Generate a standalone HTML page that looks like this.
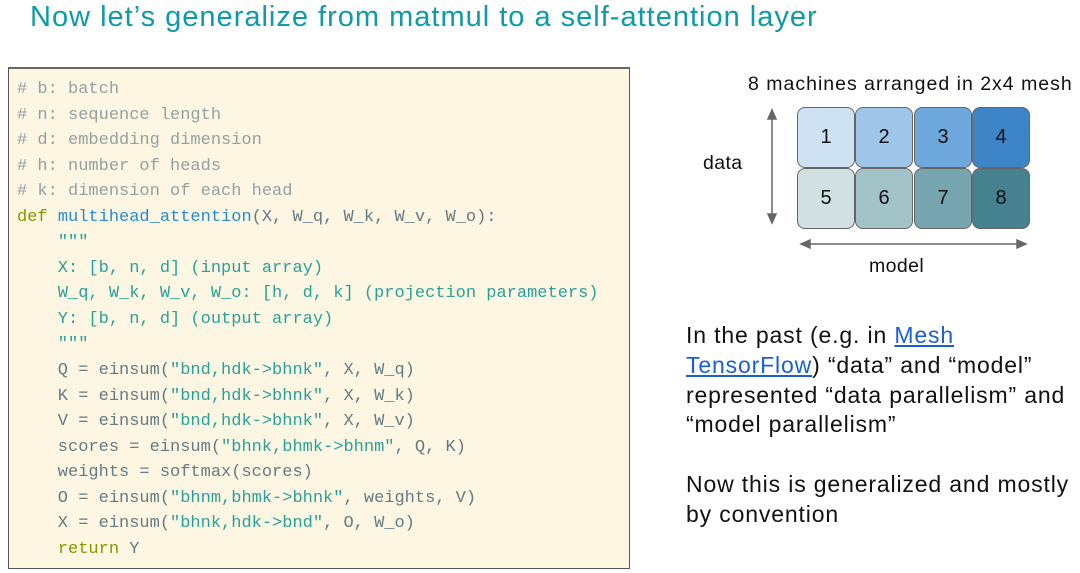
<!DOCTYPE html>
<html><head><meta charset="utf-8"><style>
*{margin:0;padding:0;box-sizing:border-box}
body{width:1080px;height:573px;background:#fff;position:relative;overflow:hidden;font-family:"Liberation Sans",sans-serif}
.title{position:absolute;left:30px;top:1px;font-size:29px;letter-spacing:1.0px;color:#0e9aa7;white-space:nowrap}
.code{position:absolute;left:8px;top:67px;width:622px;height:502px;background:#fdf6e3;border:1px solid #555;border-top:2px solid #666}
.code pre{position:absolute;left:8px;top:8px;font-family:"Liberation Mono",monospace;font-size:17px;line-height:25.55px;color:#657b83}
.c{color:#93a1a1}.k{color:#859900}.f{color:#268bd2}.s{color:#2aa198}
.t{position:absolute;white-space:nowrap;color:#111;font-size:23px;letter-spacing:0.85px}
.cell{position:absolute;width:58px;height:61px;border:1px solid #666;border-radius:8px;font-size:20px;display:flex;align-items:center;justify-content:center;color:#111}
a{color:#1a5fd6;text-decoration:underline}
</style></head><body>
<div class="title">Now let’s generalize from matmul to a self-attention layer</div>
<div class="code"><pre><span class="c"># b: batch
# n: sequence length
# d: embedding dimension
# h: number of heads
# k: dimension of each head</span>
<span class="k">def</span> <span class="f">multihead_attention</span>(X, W_q, W_k, W_v, W_o):
    <span class="s">"""
    X: [b, n, d] (input array)
    W_q, W_k, W_v, W_o: [h, d, k] (projection parameters)
    Y: [b, n, d] (output array)
    """</span>
    Q = einsum(<span class="s">"bnd,hdk-&gt;bhnk"</span>, X, W_q)
    K = einsum(<span class="s">"bnd,hdk-&gt;bhnk"</span>, X, W_k)
    V = einsum(<span class="s">"bnd,hdk-&gt;bhnk"</span>, X, W_v)
    scores = einsum(<span class="s">"bhnk,bhmk-&gt;bhnm"</span>, Q, K)
    weights = softmax(scores)
    O = einsum(<span class="s">"bhnm,bhmk-&gt;bhnk"</span>, weights, V)
    X = einsum(<span class="s">"bhnk,hdk-&gt;bnd"</span>, O, W_o)
    <span class="k">return</span> Y</pre></div>

<div class="t" style="left:748px;top:73px;font-size:19.5px;letter-spacing:1.0px">8 machines arranged in 2x4 mesh</div>
<div class="t" style="left:703px;top:152px;font-size:19.5px;letter-spacing:0.4px">data</div>
<div class="t" style="left:869px;top:255px;font-size:19.5px;letter-spacing:0.4px">model</div>
<svg style="position:absolute;left:0;top:0" width="1080" height="573">
<g stroke="#666" stroke-width="1.5" fill="#666">
<line x1="772" y1="114" x2="772" y2="218"/>
<polygon points="772,110 768,119 776,119"/><polygon points="772,223 768,214 776,214"/>
<line x1="805" y1="244" x2="1022" y2="244"/>
<polygon points="801,244 810,240 810,248"/><polygon points="1026,244 1017,240 1017,248"/>
</g></svg>
<div class="cell" style="left:797px;top:107px;background:#cfe2f3">1</div>
<div class="cell" style="left:855px;top:107px;background:#9fc5e8">2</div>
<div class="cell" style="left:914px;top:107px;background:#6fa8dc">3</div>
<div class="cell" style="left:972px;top:107px;background:#3d85c6">4</div>
<div class="cell" style="left:797px;top:168px;background:#d0e0e3">5</div>
<div class="cell" style="left:855px;top:168px;background:#a2c4c9">6</div>
<div class="cell" style="left:914px;top:168px;background:#76a5af">7</div>
<div class="cell" style="left:972px;top:168px;background:#45818e">8</div>

<div class="t" style="left:686px;top:322px">In the past (e.g. in <a>Mesh</a></div>
<div class="t" style="left:686px;top:352px"><a>TensorFlow</a>) “data” and “model”</div>
<div class="t" style="left:686px;top:382px">represented “data parallelism” and</div>
<div class="t" style="left:686px;top:411px">“model parallelism”</div>
<div class="t" style="left:686px;top:471px">Now this is generalized and mostly</div>
<div class="t" style="left:686px;top:501px">by convention</div>
</body></html>
